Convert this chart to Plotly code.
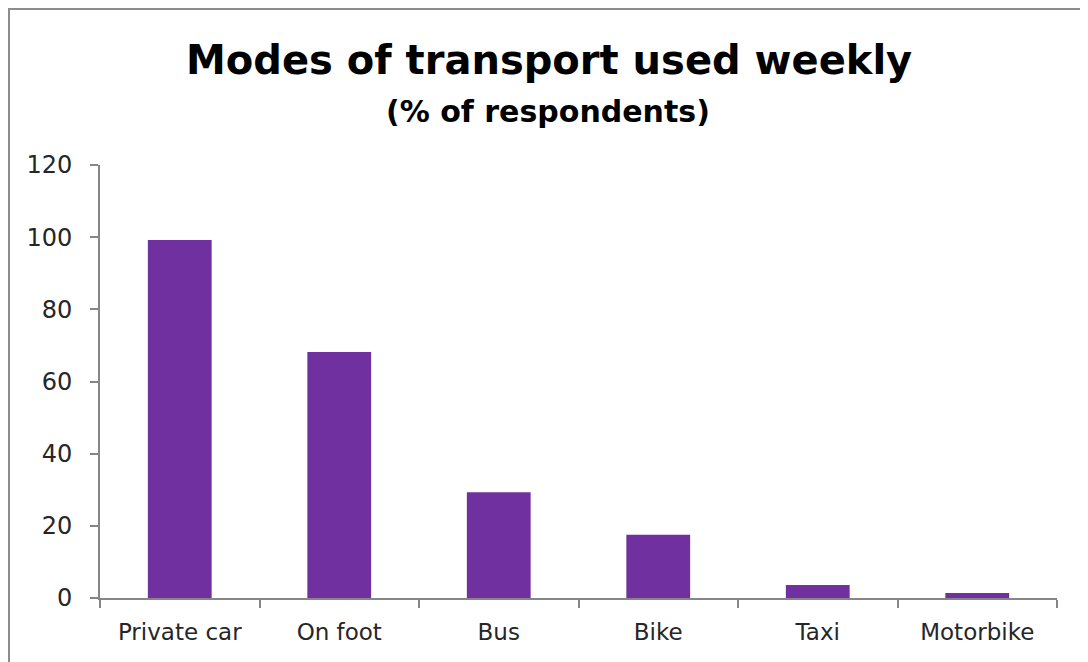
import plotly.graph_objects as go

categories = ["Private car", "On foot", "Bus", "Bike", "Taxi", "Motorbike"]
values = [99.2, 68.2, 29.3, 17.5, 3.6, 1.4]
y_ticks = [0, 20, 40, 60, 80, 100, 120]

# Page is rendered with an 8px body margin, so figure coords = page coords - 8
OFF = 8
W, H = 1088, 662
L, R, T, B = 100 - OFF, 1057 - OFF, 165 - OFF, 598 - OFF
pw, ph = R - L, B - T

def px_x(x):
    return (x - OFF - L) / pw

def px_y(y):
    return (B - (y - OFF)) / ph

fig = go.Figure()
fig.add_trace(go.Bar(
    x=categories, y=values,
    marker=dict(color="#7030A0", line=dict(width=0)),
    width=0.4,
    hoverinfo="x+y",
))

font_family = "'DejaVu Sans', sans-serif"
tick_color = "#262626"

fig.update_layout(
    width=W, height=H,
    margin=dict(l=L, r=W - R, t=T, b=H - B, pad=0),
    paper_bgcolor="white", plot_bgcolor="white",
    showlegend=False,
    font=dict(family=font_family, color=tick_color, size=23),
    xaxis=dict(
        showgrid=False, showline=True, linecolor="#868686", linewidth=2,
        ticks="outside", ticklen=8, tickcolor="#868686", tickwidth=2,
        tickson="boundaries", range=[-0.5, 5.5],
        tickfont=dict(size=23, family=font_family, color=tick_color),
        ticklabelstandoff=12,
        zeroline=False,
    ),
    yaxis=dict(
        range=[0, 120], tickvals=y_ticks,
        showgrid=False, showline=True, linecolor="#868686", linewidth=2,
        ticks="outside", ticklen=8, tickcolor="#868686", tickwidth=2,
        tickfont=dict(size=24, family=font_family, color=tick_color),
        ticklabelstandoff=13,
        zeroline=False,
    ),
    annotations=[
        dict(text="<b>Modes of transport used weekly</b>", xref="paper", yref="paper",
             x=px_x(549), y=px_y(60), xanchor="center", yanchor="middle",
             showarrow=False, font=dict(size=40, family=font_family, color="#000000")),
        dict(text="<b>(% of respondents)</b>", xref="paper", yref="paper",
             x=px_x(548), y=px_y(111), xanchor="center", yanchor="middle",
             showarrow=False, font=dict(size=30, family=font_family, color="#000000")),
    ],
    shapes=[
        dict(type="rect", xref="paper", yref="paper",
             x0=px_x(9), x1=px_x(1110), y0=px_y(690), y1=px_y(9),
             line=dict(color="#8c8c8c", width=2), fillcolor="rgba(0,0,0,0)", layer="below"),
    ],
)

fig.write_html("out.html")
